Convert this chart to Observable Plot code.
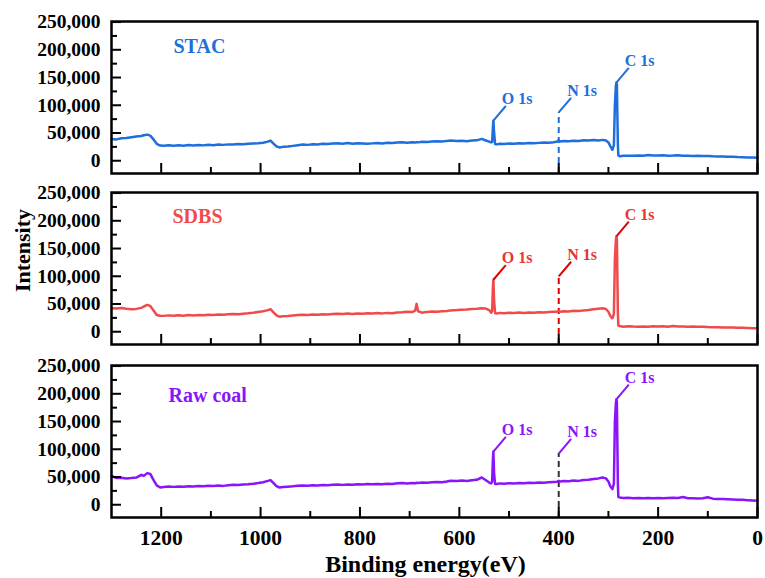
<!DOCTYPE html>
<html><head><meta charset="utf-8">
<script src="https://cdn.jsdelivr.net/npm/d3@7"></script>
<script src="https://cdn.jsdelivr.net/npm/@observablehq/plot@0.6"></script>
<style>
html,body{margin:0;padding:0;background:#fff;}
#chart{width:765px;height:578px;overflow:hidden;position:relative;}
#chart svg{display:block;}
</style></head><body><div id="chart"></div>
<script>
// Binding energy grid (eV), shared by the three spectra
const energy = [
  1300,1290,1280,1270,1260,1250,1240,1235,1228,1222,1215,1209,1202,1195,
  1185,1175,1165,1155,1145,1135,1125,1115,1105,1095,1085,1075,1065,1055,1045,1035,1025,1015,1005,995,
  987,980,974,968,962,955,945,935,925,915,
  905,895,885,875,865,855,845,835,825,815,805,795,785,775,765,755,745,735,725,715,
  705,695,689,686,683,675,665,655,645,635,625,618,605,595,585,575,565,555,548,540,
  536,534,532.5,531.5,530,528,525,518,510,500,
  490,480,470,460,450,440,430,420,410,403,400,397,390,380,370,360,350,340,330,320,
  312,305,300,296,292,289,287,285,284,283,281,280,277,
  270,260,250,240,230,220,210,200,190,180,170,160,150,140,130,120,110,100,90,80,
  70,60,50,40,30,20,10,0
];
const stac = [
  39400,38500,40500,41000,42500,43500,44500,46000,47100,45300,38000,30500,27400,27000,
  28000,27200,27800,26900,28200,27600,28400,27700,28800,28000,29300,28600,29500,29200,30200,29600,30800,31200,31600,32400,
  34000,36400,31000,26000,24000,25000,25600,26800,28000,29200,
  28600,29800,29300,30600,30100,30900,31500,30800,31800,30700,31400,30900,30500,31300,32000,31200,32400,31800,32800,33200,
  32600,33500,33000,33400,33100,34100,33600,34600,35000,34500,35800,36400,35500,36000,35200,36300,36800,39400,37000,34500,
  33000,34000,60000,72200,50000,30000,29500,30800,30200,31000,
  30500,31400,30900,31800,31500,32200,32800,32400,33500,34500,37000,34500,35400,35000,36200,35600,36800,36300,37200,36600,
  37600,36500,33000,26000,19700,28000,100000,135000,140900,138000,30000,9500,8000,
  8800,9200,8900,9500,9100,10300,9400,9300,9900,9200,9400,10100,9000,9200,8700,8900,8400,8600,7900,7700,
  7500,7200,7300,6800,6500,6000,5800,5400
];
const sdbs = [
  42400,41800,42800,41500,40600,41200,43000,45500,48400,46500,38000,30300,29000,28600,
  29500,28800,29600,28900,30000,29400,30300,29700,30600,30100,31000,30500,31400,32100,31500,32600,33300,34200,35600,36800,
  38500,40600,35000,29500,27200,27800,28400,29300,30000,30600,
  30100,31000,30500,31500,31000,31900,32400,31800,32700,32000,33000,32500,33300,32800,33600,33100,34000,33500,34600,35200,
  36200,35500,38000,50200,37000,34400,35800,36500,36100,37000,37500,38500,39000,39600,40000,40800,41500,42400,42000,39000,
  34400,37000,80000,93700,55000,33300,33000,34000,33300,34200,
  33600,34500,33800,34800,34200,35000,34600,35500,35900,36200,37500,36000,37000,36600,37800,37300,38500,39300,40500,41500,
  42400,41000,36000,28000,24300,32000,130000,165000,172000,168000,35000,11000,10300,
  9100,9800,9300,9000,9600,9200,9900,9400,9700,9100,10200,9500,9300,9000,9400,8800,9100,8500,8200,8000,
  7800,7500,7700,7000,7200,6800,6500,6200
];
const rawCoal = [
  52200,48000,48500,47500,48000,49000,54000,52000,57000,55500,44000,35000,31100,32000,
  32900,32200,33000,32400,33500,32800,33700,33200,34200,33600,34600,34000,35000,36000,35400,36500,37000,37800,39000,40500,
  42500,44400,39000,33500,31100,32000,32600,33300,34200,34600,
  34200,35000,34600,35500,35100,35900,36400,35800,36700,36200,37000,36500,37200,36800,37600,37100,38000,37500,38600,39000,
  38400,39300,38900,39500,39100,40200,39700,40600,41200,40700,42000,43200,42600,43500,43000,44200,45000,49100,45000,40000,
  38300,42000,82000,95900,55000,37200,37500,38500,37800,38800,
  38200,39200,38600,39600,39200,40000,39600,40500,41200,41600,43200,41800,42800,42300,43500,43000,44500,45200,46500,47500,
  49100,47500,42000,33000,28200,38000,150000,183000,190100,186000,38000,14000,13200,
  12000,12400,11800,12200,11700,12300,11900,12100,11600,12000,12500,12200,13800,11800,11900,11300,11800,13500,11000,10500,
  10200,9800,9500,9200,8800,8300,7800,7200
];
// Peak annotations
const peakLabels = ["O 1s", "N 1s", "C 1s"];
const peakEnergy = [531.5, 400, 284];
const stacPeakTop = [72200, 87000, 140900];
const sdbsPeakTop = [93700, 99700, 172000];
const rawPeakTop = [95900, 92300, 190100];
const sampleNames = ["STAC", "SDBS", "Raw coal"];
// Ticks
const yTicks = [0, 50000, 100000, 150000, 200000, 250000];
const yMinorTicks = [25000, 75000, 125000, 175000, 225000];
const xTicks = [1200, 1000, 800, 600, 400, 200, 0];
const xMinorTicks = [1100, 900, 700, 500, 300, 100];

if (![stac, sdbs, rawCoal].every(a => a.length === energy.length)) console.error("length mismatch");

const FONT = "'Liberation Serif', 'Times New Roman', serif";
const X_DOMAIN = [1300, 0];
const Y_DOMAIN = [-23000, 251000];
const LEAD_E = 25, LEAD_V = 26500;

const panels = [
  {name: sampleNames[0], values: stac, tops: stacPeakTop, color: "#1e6edc", lead: "#1e6edc", labelColor: "#1e6edc", nColor: "#1e6edc",
   height: 175, marginTop: 21, marginBottom: 2, nameDx: 62, nameDy: 31, showX: false},
  {name: sampleNames[1], values: sdbs, tops: sdbsPeakTop, color: "#f04a4a", lead: "#e00000", labelColor: "#e83434", nColor: "#e00000",
   height: 172, marginTop: 17, marginBottom: 3, nameDx: 61, nameDy: 30, showX: false, yLabel: "Intensity"},
  {name: sampleNames[2], values: rawCoal, tops: rawPeakTop, color: "#8a14fa", lead: "#8a14fa", labelColor: "#8a14fa", nColor: "#333333",
   height: 231, marginTop: 18, marginBottom: 61, nameDx: 57, nameDy: 36, showX: true, xLabel: "Binding energy(eV)"}
];

function makePanel(p) {
  const data = energy.map((e, i) => ({e, v: p.values[i]}));
  const peaks = peakLabels.map((label, i) => ({label, e: peakEnergy[i], top: p.tops[i]}));
  const nPeak = peaks.filter(d => d.label.startsWith("N"));
  const marks = [
    Plot.ruleX(nPeak, {x: "e", y1: Y_DOMAIN[0], y2: "top", stroke: p.nColor, strokeWidth: 2, strokeDasharray: "6,4"}),
    Plot.line(data, {x: "e", y: "v", stroke: p.color, strokeWidth: 2.5}),
    Plot.link(peaks, {x1: "e", y1: "top", x2: d => d.e - LEAD_E, y2: d => d.top + LEAD_V, stroke: p.lead, strokeWidth: 2}),
    Plot.text(peaks, {x: d => d.e - LEAD_E, y: d => d.top + LEAD_V, text: "label", textAnchor: "start", lineAnchor: "bottom",
      dx: -4, dy: -2, fill: p.labelColor, fontSize: 16, fontWeight: "bold"}),
    Plot.text([p.name], {frameAnchor: "top-left", text: d => d, dx: p.nameDx, dy: p.nameDy, lineAnchor: "bottom", textAnchor: "start",
      fill: p.color, fontSize: 20, fontWeight: "bold"}),
    Plot.axisY(yTicks, {tickSize: -10, strokeWidth: 2, fill: "none", label: null}),
    Plot.axisY(yMinorTicks, {tickSize: -6, strokeWidth: 2, fill: "none", label: null}),
    Plot.axisY(yTicks, {tickSize: 0, tickPadding: 11, tickFormat: d3.format(","), label: null, fontSize: 19.5, fontWeight: "bold", fill: "#000"}),
    Plot.axisX(xTicks, {tickSize: -10, strokeWidth: 2, fill: "none", label: null}),
    Plot.axisX(xMinorTicks, {tickSize: -6, strokeWidth: 2, fill: "none", label: null}),
    Plot.frame({strokeWidth: 2.5, stroke: "#000"})
  ];
  if (p.showX) {
    marks.push(Plot.axisX(xTicks, {tickSize: 0, tickPadding: 12, tickFormat: d => String(d), label: null, fontSize: 21.5, fontWeight: "bold", fill: "#000"}));
    marks.push(Plot.text([p.xLabel], {frameAnchor: "bottom", text: d => d, dx: -9, dy: 54, textAnchor: "middle", lineAnchor: "bottom", fontSize: 24, fontWeight: "bold", fill: "#000"}));
  }
  if (p.yLabel) {
    marks.push(Plot.text([p.yLabel], {frameAnchor: "left", text: d => d, rotate: -90, dx: -89, dy: -18, textAnchor: "middle", lineAnchor: "middle", fontSize: 22, fontWeight: "bold", fill: "#000"}));
  }
  return Plot.plot({
    width: 765, height: p.height,
    marginLeft: 111, marginRight: 8, marginTop: p.marginTop, marginBottom: p.marginBottom,
    x: {domain: X_DOMAIN},
    y: {domain: Y_DOMAIN},
    style: {fontFamily: FONT, fontWeight: "bold", background: "#fff", color: "#000", overflow: "visible"},
    marks
  });
}

const chart = document.getElementById("chart");
panels.forEach(p => chart.appendChild(makePanel(p)));
</script></body></html>
